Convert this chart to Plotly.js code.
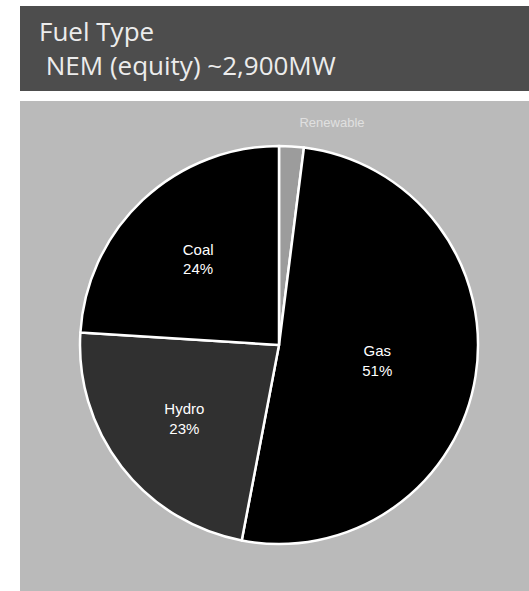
<!DOCTYPE html>
<html>
<head>
<meta charset="utf-8">
<script src="https://cdn.plot.ly/plotly-3.0.1.min.js"></script>
<style>
html,body{margin:0;padding:0;background:#ffffff;}
#chart{width:529px;height:591px;}
</style>
</head>
<body>
<div id="chart"></div>
<script>
// Data
const categories = ['Renewable', 'Gas', 'Hydro', 'Coal'];
const shares = [2, 51, 23, 24];
const sliceColors = ['#9c9c9c', '#000000', '#303030', '#000000'];
const textTemplates = ['%{label}<br>&nbsp;', '%{label}<br>%{percent}', '%{label}<br>%{percent}', '%{label}<br>%{percent}'];
const textPositions = ['outside', 'inside', 'inside', 'inside'];
const titleLine1 = 'Fuel Type';
const titleLine2 = 'NEM (equity) ~2,900MW';

const W = 529, H = 591;
const cx = 279, cy = 345, r = 199;

const trace = {
  type: 'pie',
  labels: categories,
  values: shares,
  sort: false,
  direction: 'clockwise',
  rotation: 0,
  marker: {colors: sliceColors, line: {color: '#ffffff', width: 2.5}},
  texttemplate: textTemplates,
  textposition: textPositions,
  insidetextfont: {family: 'Liberation Sans, Arial, sans-serif', size: 15, color: '#ffffff'},
  outsidetextfont: {family: 'Liberation Sans, Arial, sans-serif', size: 13, color: '#e0e0e0'},
  insidetextorientation: 'horizontal',
  hoverinfo: 'none',
  showlegend: false,
  domain: {x: [(cx - r) / W, (cx + r) / W], y: [(H - cy - r) / H, (H - cy + r) / H]}
};

const layout = {
  width: W, height: H,
  margin: {l: 0, r: 0, t: 0, b: 0},
  paper_bgcolor: '#ffffff',
  showlegend: false,
  shapes: [
    {type: 'rect', xref: 'paper', yref: 'paper', x0: 20 / W, x1: 1, y0: 1 - 91 / H, y1: 1 - 6 / H,
     fillcolor: '#4d4d4d', line: {width: 0}, layer: 'below'},
    {type: 'rect', xref: 'paper', yref: 'paper', x0: 20 / W, x1: 1, y0: 0, y1: 1 - 101 / H,
     fillcolor: '#bababa', line: {width: 0}, layer: 'below'}
  ],
  annotations: [
    {xref: 'paper', yref: 'paper', x: 37 / W, y: 1 - 48 / H, xanchor: 'left', yanchor: 'middle', showarrow: false,
     align: 'left',
     text: titleLine1 + '<br>&nbsp;' + titleLine2,
     font: {family: 'Open Sans, Liberation Sans, sans-serif', size: 26, color: '#ececec'}}
  ]
};

Plotly.newPlot('chart', [trace], layout, {staticPlot: true, displayModeBar: false});
</script>
</body>
</html>
